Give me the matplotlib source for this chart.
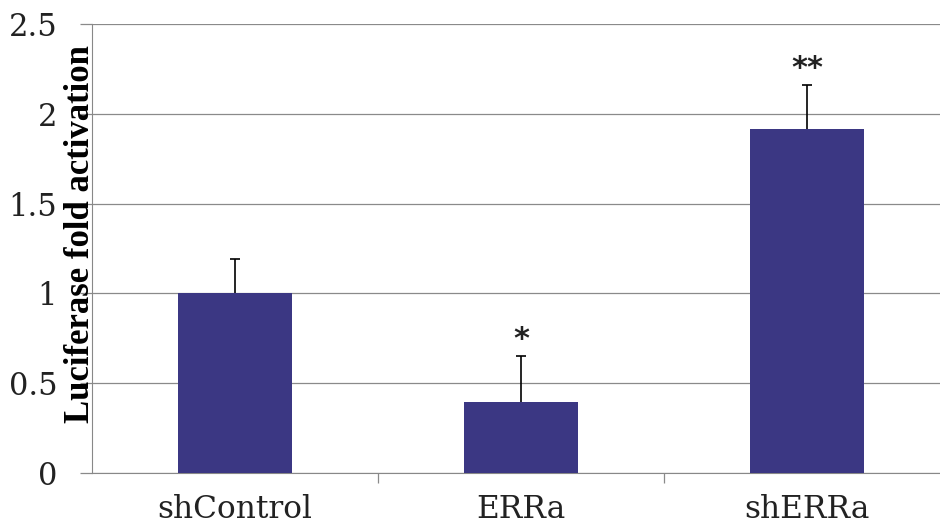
import matplotlib.pyplot as plt
import numpy as np

groups = ['shControl', 'ERRa', 'shERRa']
means  = [1.0, 0.395, 1.915]
errs   = [0.19, 0.255, 0.245]
stars  = ['', '*', '**']

bar_color = '#3b3783'

fig = plt.figure( figsize=(9.4, 5.25), dpi=100 )
ax = fig.add_axes( [0.0979, 0.099, 0.913, 0.855] )

x = np.arange( len(groups) )
ax.bar( x, means, width=0.4, color=bar_color, zorder=3 )
eb = ax.errorbar( x, means, yerr=[np.zeros(len(errs)), errs], fmt='none',
                  ecolor='black', elinewidth=1.2, capsize=3.5, capthick=1.2,
                  zorder=4 )
# only the upper cap is drawn in the original
eb[1][0].set_visible( False )

for xi, m, e, s in zip( x, means, errs, stars ):
  if s:
    ax.text( xi, m + e + 0.015, s, ha='center', va='bottom',
             fontsize=22, fontweight='bold', family='DejaVu Sans',
             color='#222222' )

ax.set_xlim( -0.5, 2.5 )
ax.set_ylim( 0, 2.5 )
ax.set_yticks( [0, 0.5, 1, 1.5, 2, 2.5] )
ax.set_yticklabels( ['0', '0.5', '1', '1.5', '2', '2.5'] )
ax.set_xticks( x )
ax.set_xticklabels( groups )
ax.set_xticks( [0.5, 1.5], minor=True )

ax.grid( axis='y', color='#8a8a8a', linewidth=0.9, zorder=0 )
for side in ['top', 'right']:
  ax.spines[side].set_visible( False )
ax.spines['left'].set_color( '#888888' )
ax.spines['bottom'].set_color( '#888888' )

ax.tick_params( axis='y', length=8.6, width=0.9, color='#8a8a8a', pad=16.5,
                labelsize=22 )
ax.tick_params( axis='x', which='major', length=0, pad=15, labelsize=22.5 )
ax.tick_params( axis='x', which='minor', length=7, width=0.9, color='#8a8a8a' )
for lab in ax.get_yticklabels() + ax.get_xticklabels():
  lab.set_family( 'DejaVu Serif' )
  lab.set_color( '#222222' )

ax.set_ylabel( 'Luciferase fold activation', fontsize=25, fontweight='bold',
               family='Liberation Serif' )
ax.yaxis.set_label_coords( 0.006, 0.532 )

plt.savefig( 'out.png', dpi=100 )
